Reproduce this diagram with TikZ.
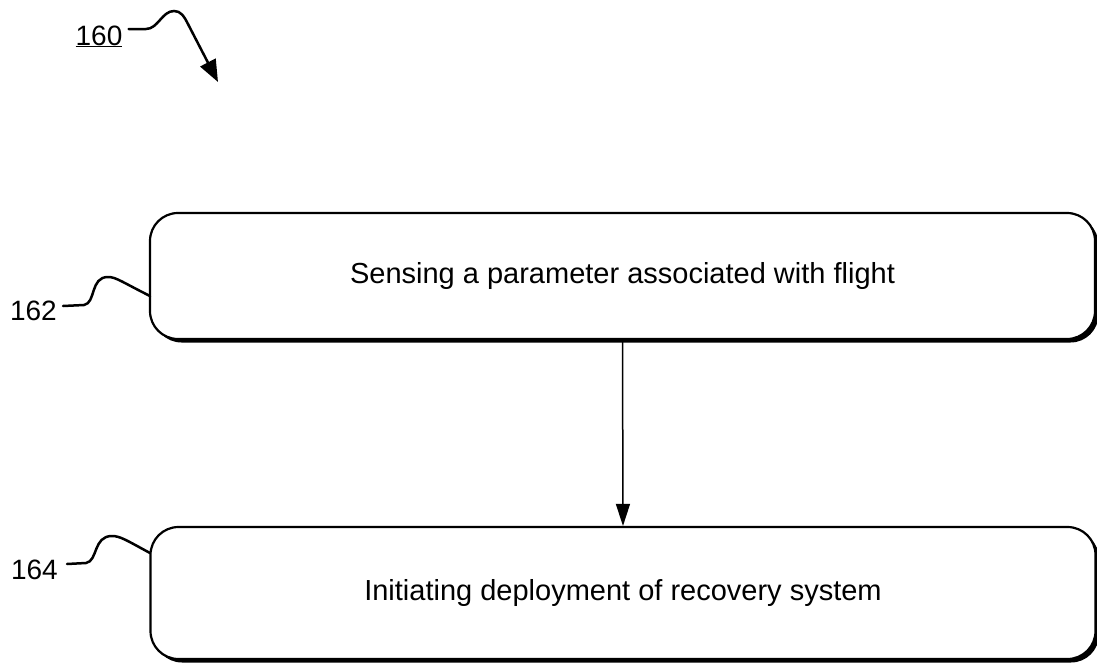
\documentclass[tikz,border=0pt]{standalone}
\usepackage{fontspec}
\setmainfont{Liberation Sans}
\usetikzlibrary{arrows.meta,shadows}
\begin{document}
\begin{tikzpicture}[x=1pt,y=-1pt,
  box/.style={draw, line width=2.2pt, rounded corners=28pt, fill=white,
    minimum width=945pt, inner sep=0pt,
    font=\fontsize{29}{34}\selectfont,
    drop shadow={shadow xshift=3.5pt, shadow yshift=-3.5pt, fill=black, opacity=1}},
  lbl/.style={font=\fontsize{28}{32}\selectfont, inner sep=0pt},
  lead/.style={line width=2.5pt, line cap=round},
  flow/.style={line width=1.5pt, -{Triangle[length=22pt,width=14pt]}}]
\useasboundingbox (0,0) rectangle (1097,667);
\node[box, minimum height=126pt] (b1) at (622.5,276) {Sensing a parameter associated with flight};
\node[box, minimum height=132pt] (b2) at (623,593) {Initiating deployment of recovery system};
\draw[flow] (b1.south) -- (b2.north);
% 160
\node[lbl, anchor=base] (l160) at (99,45) {\underline{160}};
\coordinate (t160) at (218,82);
\draw[lead, -{Triangle[length=22pt,width=17pt]}] (l160.east |- 0,29) ++(6,0) -- (146,29)
  .. controls (158,29) and (162,11) .. (174,11)
  .. controls (181,11) and (184,16) .. (189,26) -- (t160);
% 162
\node[lbl, anchor=east] (l162) at (57,311) {162};
\coordinate (c162) at (150,296);
\draw[lead] (l162.east) ++(6,-5) -- (84,305)
  .. controls (96,303) and (90,277) .. (108,277)
  .. controls (116,277) and (122,282) .. (c162);
% 164
\node[lbl, anchor=east] (l164) at (58,570) {164};
\coordinate (c164) at (150,553);
\draw[lead] (l164.east) ++(9,-6) -- (86,563)
  .. controls (98,561) and (93,536) .. (112,536)
  .. controls (120,536) and (126,540) .. (c164);
\end{tikzpicture}
\end{document}
